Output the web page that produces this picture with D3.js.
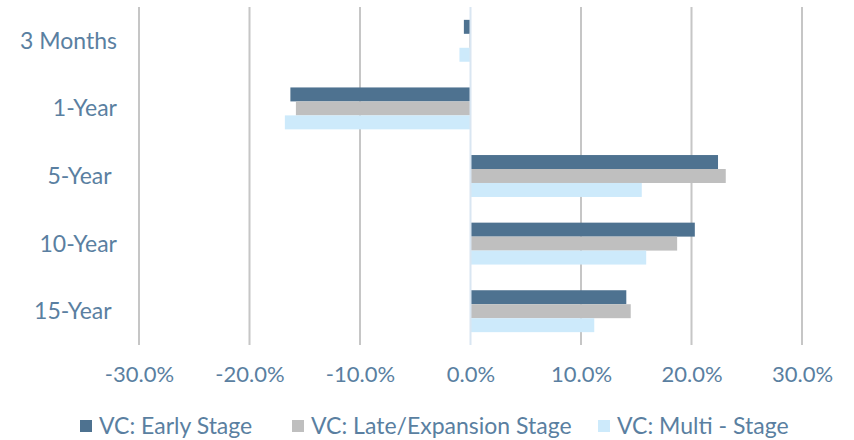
<html>

<head>
    <meta charset="utf-8">
    <script src="https://d3js.org/d3.v7.min.js"></script>
</head>

<body style="margin:0;background:#fff">
    <script>

        // data
        var categories = ["3 Months", "1-Year", "5-Year ", "10-Year", "15-Year "];
        var seriesNames = ["VC: Early Stage", "VC: Late/Expansion Stage", "VC: Multi - Stage"];
        var earlyStage = [-0.6, -16.3, 22.4, 20.3, 14.1];
        var lateStage = [-0.1, -15.8, 23.1, 18.7, 14.5];
        var multiStage = [-1.0, -16.8, 15.5, 15.9, 11.2];
        var tickValues = [-30, -20, -10, 0, 10, 20, 30];
        var colors = ["#4e7290", "#bfbfbf", "#cdeafb"];

        var width = 854;
        var height = 440;
        var textColor = "#5a7fa1";
        var font = "Lato, 'Open Sans', sans-serif";

        var series = [earlyStage, lateStage, multiStage];

        var svg = d3.select("body").append("svg").attr("width", width).attr("height", height);

        var xScale = d3.scaleLinear().domain([-30, 30]).range([139, 802]);

        var yScale = d3.scaleBand()
            .domain(categories)
            .range([7, 345])
            .paddingInner(0.38)
            .paddingOuter(0.19);

        var inner = d3.scaleBand()
            .domain([0, 1, 2])
            .range([0, yScale.bandwidth()]);

        // gridlines
        svg.append("g")
            .selectAll("line")
            .data(tickValues.filter(function(d) { return d !== 0; }))
            .enter()
            .append("line")
            .attr("x1", function(d) { return xScale(d); })
            .attr("x2", function(d) { return xScale(d); })
            .attr("y1", 7)
            .attr("y2", 345)
            .attr("stroke", "#c6c6c6")
            .attr("stroke-width", 2);

        // bars
        series.forEach(function(values, si) {
            svg.append("g")
                .selectAll("rect")
                .data(values)
                .enter()
                .append("rect")
                .attr("x", function(d) { return xScale(Math.min(0, d)); })
                .attr("y", function(d, i) { return yScale(categories[i]) + inner(si); })
                .attr("width", function(d) { return Math.abs(xScale(d) - xScale(0)); })
                .attr("height", inner.bandwidth())
                .attr("fill", colors[si]);
        });

        // zero line
        svg.append("line")
            .attr("x1", xScale(0)).attr("x2", xScale(0))
            .attr("y1", 7).attr("y2", 345)
            .attr("stroke", "#d9e6f2")
            .attr("stroke-width", 2);

        // category labels
        svg.append("g")
            .selectAll("text")
            .data(categories)
            .enter()
            .append("text")
            .attr("x", 117)
            .attr("y", function(d) { return yScale(d) + yScale.bandwidth() / 2; })
            .attr("dy", "0.35em")
            .attr("text-anchor", "end")
            .style("white-space", "pre")
            .attr("font-family", font)
            .attr("font-size", 23)
            .attr("fill", textColor)
            .text(function(d) { return d; });

        // x axis
        var xAxis = svg.append("g")
            .attr("transform", "translate(0,345)")
            .call(d3.axisBottom(xScale)
                .tickValues(tickValues)
                .tickSize(0)
                .tickPadding(21)
                .tickFormat(function(d) { return d.toFixed(1) + "%"; }));
        xAxis.select(".domain").remove();
        xAxis.selectAll("text")
            .attr("font-family", font)
            .attr("font-size", 22)
            .attr("fill", textColor);

        // legend
        var legendX = [80, 292, 598];
        var legend = svg.append("g")
            .selectAll("g")
            .data(seriesNames)
            .enter()
            .append("g")
            .attr("transform", function(d, i) { return "translate(" + legendX[i] + ",426)"; });
        legend.append("rect")
            .attr("x", 0).attr("y", -6)
            .attr("width", 12).attr("height", 12)
            .attr("fill", function(d, i) { return colors[i]; });
        legend.append("text")
            .attr("x", 19)
            .attr("dy", "0.35em")
            .attr("font-family", font)
            .attr("font-size", 23)
            .attr("fill", textColor)
            .text(function(d) { return d; });
    </script>
</body>

</html>
